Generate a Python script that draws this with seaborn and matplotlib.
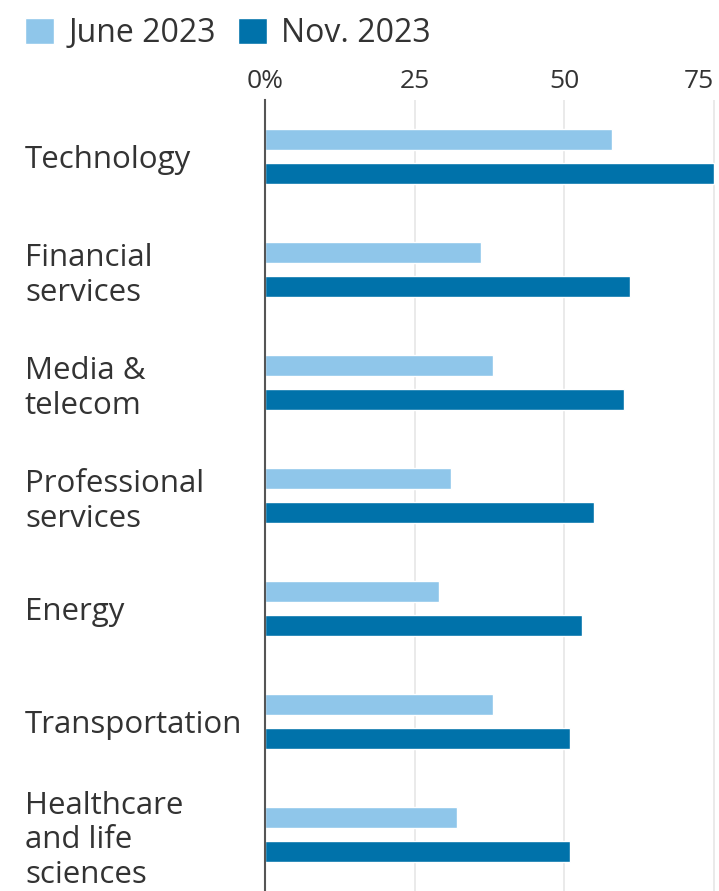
import pandas as pd
import matplotlib.pyplot as plt
import seaborn as sns
from matplotlib.patches import Patch

sectors = ["Technology", "Financial\nservices", "Media &\ntelecom", "Professional\nservices",
           "Energy", "Transportation", "Healthcare\nand life\nsciences"]
june_2023 = [58, 36, 38, 31, 29, 38, 32]
nov_2023 = [75, 61, 60, 55, 53, 51, 51]
periods = ["June 2023", "Nov. 2023"]
x_ticks = [0, 25, 50, 75]
x_tick_labels = ["0%", "25", "50", "75"]

light_blue = "#8fc6ea"
dark_blue = "#0072aa"
text_col = "#333333"

df = pd.DataFrame({
    "sector": sectors * 2,
    "share": june_2023 + nov_2023,
    "period": [periods[0]] * len(sectors) + [periods[1]] * len(sectors),
})

sns.set_theme(style="white")
plt.rcParams["font.family"] = ["Open Sans", "DejaVu Sans"]

fig = plt.figure(figsize=(7.19, 8.91), dpi=100)
ax = fig.add_axes([265 / 719, 0.0, 1 - 265 / 719, 1 - 100 / 891])

sns.barplot(data=df, y="sector", x="share", hue="period", orient="h",
            palette=[light_blue, dark_blue], width=0.6, gap=0.4,
            saturation=1, legend=False, ax=ax)

ax.set_xlim(0, 75.8)
ax.set_ylim(len(sectors) - 0.5, -0.5)
ax.set_xlabel("")
ax.set_ylabel("")

# x axis on top
ax.xaxis.tick_top()
ax.set_xticks(x_ticks)
ax.set_xticklabels(x_tick_labels, fontsize=19, color=text_col)
ax.tick_params(axis="x", length=0, pad=4)
ax.get_xticklabels()[-1].set_horizontalalignment("right")
for x in x_ticks[1:]:
    ax.axvline(x, color="#e6e6e6", lw=1.2, zorder=0)

# category labels left-aligned at the figure edge
ax.set_yticks(range(len(sectors)))
ax.set_yticklabels(sectors, fontsize=22.5, color=text_col, linespacing=1.2)
ax.tick_params(axis="y", length=0, pad=(265 - 25) * 72 / 100)
for lab in ax.get_yticklabels():
    lab.set_horizontalalignment("left")

for side in ["top", "right", "bottom"]:
    ax.spines[side].set_visible(False)
ax.spines["left"].set_color("#555555")
ax.spines["left"].set_linewidth(1.5)

handles = [Patch(facecolor=light_blue, label=periods[0]),
           Patch(facecolor=dark_blue, label=periods[1])]
fig.legend(handles=handles, loc="upper left", bbox_to_anchor=(-0.005, 1.013), ncol=2,
           frameon=False, fontsize=23, handlelength=0.9, handleheight=0.9,
           handletextpad=0.45, columnspacing=0.7, labelcolor=text_col)

fig.savefig("out.png", dpi=100)
